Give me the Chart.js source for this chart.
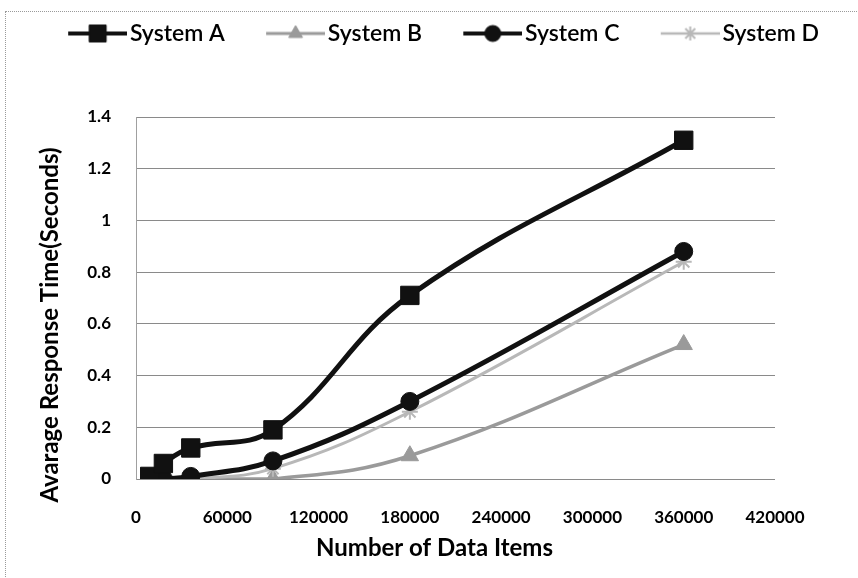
<!DOCTYPE html>
<html>
<head>
<meta charset="utf-8">
<script src="https://cdn.jsdelivr.net/npm/chart.js@4/dist/chart.umd.min.js"></script>
<style>
  html, body { margin: 0; padding: 0; background: #fff; }
  #wrap { position: relative; width: 858px; height: 578px; overflow: hidden; }
  #frame { position: absolute; left: 5px; top: 11px; width: 900px; height: 620px;
           border: 1px dotted #9a9a9a; box-sizing: border-box; }
  canvas { position: absolute; left: 0; top: 0; }
</style>
</head>
<body>
<div id="wrap">
  <div id="frame"></div>
  <canvas id="c" width="858" height="578"></canvas>
</div>
<script>
// Number of data items per run
const dataItems = [9000, 18000, 36000, 90000, 180000, 360000];

// Average response time (seconds) per system
const systemA = [0.01, 0.06, 0.12, 0.19, 0.71, 1.31];
const systemB = [0.00, 0.00, 0.00, 0.00, 0.09, 0.52];
const systemC = [0.00, 0.00, 0.01, 0.07, 0.30, 0.88];
const systemD = [0.00, 0.00, 0.00, 0.04, 0.26, 0.84];

const seriesNames = ['System A', 'System B', 'System C', 'System D'];

// Axis ticks and titles
const xTicks = [0, 60000, 120000, 180000, 240000, 300000, 360000, 420000];
const yTicks = [0, 0.2, 0.4, 0.6, 0.8, 1, 1.2, 1.4];
const xTitle = 'Number of Data Items';
const yTitle = 'Avarage Response Time(Seconds)';

const toPoints = ys => dataItems.map((x, i) => ({ x, y: ys[i] }));

const styles = [
  { color: '#111111', width: 5,   point: 'rect',     radius: 13, legendRadius: 12 },
  { color: '#9a9a9a', width: 3.5, point: 'triangle', radius: 10, legendRadius: 8 },
  { color: '#111111', width: 5,   point: 'circle',   radius: 9,  legendRadius: 8 },
  { color: '#b8b8b8', width: 3,   point: 'star',     radius: 8,  legendRadius: 7 }
];
const values = [systemA, systemB, systemC, systemD];

// Legend swatch: a short line with the series marker in its middle.
// The blank strip on the left widens the gap between legend entries.
const SWATCH_W = 97, LINE_FROM = 38, LINE_LEN = 59, BOX_W = 79.5;
function legendSwatch(s) {
  const cv = document.createElement('canvas');
  cv.width = SWATCH_W; cv.height = 26;
  const g = cv.getContext('2d');
  g.strokeStyle = s.color; g.fillStyle = s.color;
  g.lineWidth = s.width * 0.8;
  g.beginPath(); g.moveTo(LINE_FROM, 13); g.lineTo(LINE_FROM + LINE_LEN, 13); g.stroke();
  g.lineWidth = s.point === 'star' ? 2 : 1;
  Chart.helpers.drawPoint(g, { pointStyle: s.point, radius: s.legendRadius, borderWidth: g.lineWidth, rotation: 0 },
    LINE_FROM + LINE_LEN / 2, 13);
  return cv;
}
const swatches = styles.map(legendSwatch);

const datasets = values.map((ys, i) => ({
  label: seriesNames[i],
  data: toPoints(ys),
  borderColor: styles[i].color,
  backgroundColor: styles[i].color,
  borderWidth: styles[i].width,
  pointStyle: styles[i].point,
  pointRadius: styles[i].radius,
  pointBorderWidth: styles[i].point === 'star' ? 2 : 1,
  pointBorderColor: styles[i].color,
  pointBackgroundColor: styles[i].color,
  tension: 0.4,
  showLine: true,
  order: [0, 3, 1, 2][i]
}));

const tickFont = { family: 'Lato', size: 17, weight: 'bold' };
const titleFont = 'bold 24px Lato';

// Axis titles, placed a little off the plot centre
const axisTitles = {
  id: 'axisTitles',
  afterDraw(chart) {
    const { ctx, chartArea: a } = chart;
    ctx.save();
    ctx.fillStyle = '#000';
    ctx.font = titleFont;
    ctx.textAlign = 'center';
    ctx.textBaseline = 'middle';
    ctx.fillText(xTitle, (a.left + a.right) / 2 - 21, a.bottom + 69);
    ctx.translate(50, (a.top + a.bottom) / 2 + 27);
    ctx.rotate(-Math.PI / 2);
    ctx.fillText(yTitle, 0, 0);
    ctx.restore();
  }
};

new Chart(document.getElementById('c'), {
  type: 'scatter',
  data: { datasets },
  plugins: [axisTitles],
  options: {
    responsive: false,
    animation: false,
    devicePixelRatio: 1,
    layout: { padding: { left: 0, right: 0, top: 10, bottom: 0 } },
    plugins: {
      tooltip: { enabled: false },
      legend: {
        position: 'top',
        labels: {
          usePointStyle: true,
          pointStyleWidth: BOX_W,
          padding: 12,
          color: '#000',
          font: { family: 'Lato', size: 23, weight: '600' },
          sort: (a, b) => a.datasetIndex - b.datasetIndex,
          generateLabels(chart) {
            const items = Chart.defaults.plugins.legend.labels.generateLabels(chart);
            items.forEach(it => { it.pointStyle = swatches[it.datasetIndex]; });
            return items;
          }
        }
      },
      // empty spacer between legend and plot area
      title: { display: true, text: '', weight: 500, padding: { top: 0, bottom: 47.6 } }
    },
    scales: {
      x: {
        type: 'linear',
        min: 0, max: 420000,
        afterBuildTicks: s => { s.ticks = xTicks.map(v => ({ value: v })); },
        afterFit: s => { s.height = 99; },
        grid: { display: false },
        border: { display: false },
        ticks: { color: '#000', font: tickFont, padding: 20, maxRotation: 0,
                 callback: v => String(v) }
      },
      y: {
        min: 0, max: 1.4,
        afterBuildTicks: s => { s.ticks = yTicks.map(v => ({ value: v })); },
        afterFit: s => { s.width = 136; },
        grid: { color: '#8a8a8a', lineWidth: 1, drawTicks: false },
        border: { display: true, color: '#a0a0a0', width: 1 },
        ticks: { color: '#000', font: tickFont, padding: 25,
                 callback: v => String(Math.round(v * 10) / 10) }
      },
      yRight: {
        position: 'right',
        display: true,
        min: 0, max: 1.4,
        afterFit: s => { s.width = 83; },
        grid: { display: false },
        border: { display: false },
        ticks: { display: false }
      }
    }
  }
});
</script>
</body>
</html>
